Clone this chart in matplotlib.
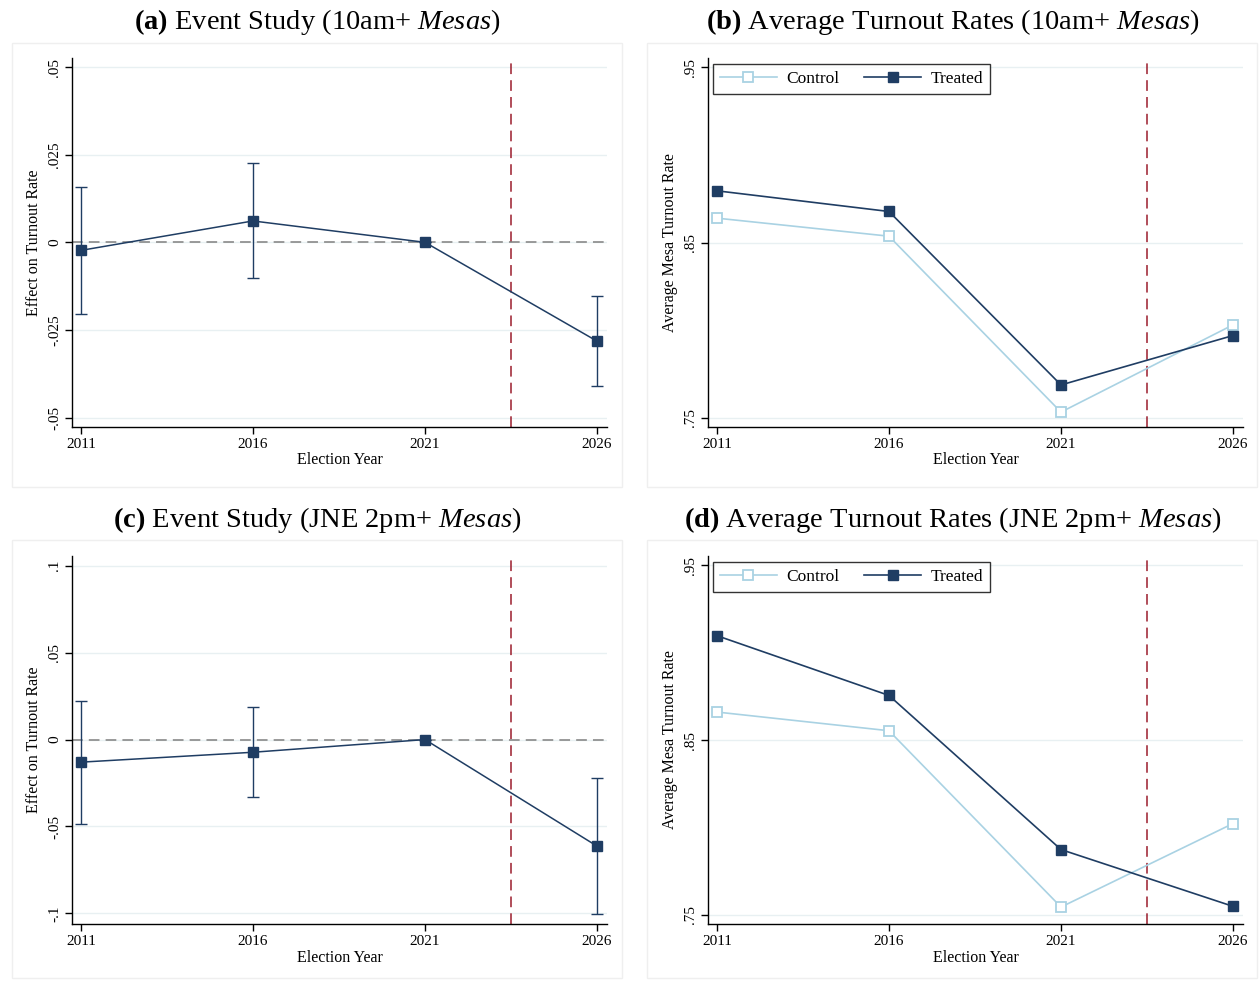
import matplotlib
matplotlib.use("Agg")
import matplotlib.pyplot as plt
from matplotlib.patches import Rectangle

plt.rcParams['font.family'] = ['Liberation Serif', 'DejaVu Serif']
plt.rcParams['mathtext.fontset'] = 'custom'
plt.rcParams['mathtext.rm'] = 'Liberation Serif'
plt.rcParams['mathtext.it'] = 'Liberation Serif:italic'
plt.rcParams['mathtext.bf'] = 'Liberation Serif:bold'

years = [2011, 2016, 2021, 2026]
treat_year = 2023.5

# Panel (a): event study 10am+
es_a = [-0.0023, 0.0061, 0.0, -0.0282]
es_a_lo = [-0.0205, -0.0102, 0.0, -0.0410]
es_a_hi = [0.0159, 0.0226, 0.0, -0.0153]
ticks_a = [-0.05, -0.025, 0, 0.025, 0.05]
labels_a = ['-.05', '-.025', '0', '.025', '.05']

# Panel (c): event study JNE 2pm+
es_c = [-0.0130, -0.0073, 0.0, -0.0613]
es_c_lo = [-0.0487, -0.0331, 0.0, -0.1006]
es_c_hi = [0.0224, 0.0190, 0.0, -0.0222]
ticks_c = [-0.1, -0.05, 0, 0.05, 0.1]
labels_c = ['-.1', '-.05', '0', '.05', '.1']

# Panel (b): average turnout 10am+
ctrl_b = [0.8639, 0.8536, 0.7532, 0.8030]
trt_b = [0.8795, 0.8677, 0.7687, 0.7969]
# Panel (d): average turnout JNE 2pm+
ctrl_d = [0.8660, 0.8553, 0.7544, 0.8022]
trt_d = [0.9097, 0.8755, 0.7873, 0.7548]
ticks_t = [0.75, 0.85, 0.95]
labels_t = ['.75', '.85', '.95']

NAVY = '#1f3d63'
LTBLUE = '#a9d2e3'
RED = '#9b1c2c'
GRID = '#e8f0f2'

W, H = 1259, 981
fig = plt.figure(figsize=(W / 100, H / 100), dpi=100)

def fr(x0, y0, x1, y1):
    return [x0 / W, 1 - y1 / H, (x1 - x0) / W, (y1 - y0) / H]

# panel backgrounds (faint graph-region borders)
for (x0, y0, x1, y1) in [(12, 43, 622, 487), (647, 43, 1257, 487),
                         (12, 540, 622, 978), (647, 540, 1257, 978)]:
    fig.patches.append(Rectangle((x0 / W, 1 - y1 / H), (x1 - x0) / W, (y1 - y0) / H,
                                 transform=fig.transFigure, facecolor='none',
                                 edgecolor='#efefef', linewidth=1, zorder=0))

def style(ax, ylim, ticks, labels, ylabel):
    ax.patch.set_alpha(0)
    ax.set_xlim(2010.74, 2026.29)
    ax.set_ylim(*ylim)
    ax.set_xticks(years)
    ax.set_xticklabels([str(y) for y in years], fontsize=11)
    ax.set_yticks(ticks)
    ax.set_yticklabels(labels, fontsize=11, rotation=90, va='center')
    for t in ticks:
        ax.axhline(t, color=GRID, lw=1.0, zorder=0)
    ax.spines['top'].set_visible(False)
    ax.spines['right'].set_visible(False)
    ax.spines['left'].set_linewidth(1.0)
    ax.spines['bottom'].set_linewidth(1.0)
    ax.tick_params(length=5, width=1.0, pad=3)
    ax.set_xlabel('Election Year', fontsize=11.5, labelpad=1)
    ax.set_ylabel(ylabel, fontsize=11.5, labelpad=4)
    ax.axvline(treat_year, color=RED, lw=1.1, ls=(0, (7, 4)), zorder=1)

def event(ax, est, lo, hi, ylim, ticks, labels):
    style(ax, ylim, ticks, labels, 'Effect on Turnout Rate')
    ax.axhline(0, color='#808080', lw=1.1, ls=(0, (7, 4)), zorder=1)
    yerr = [[e - l for e, l in zip(est, lo)], [h - e for e, h in zip(est, hi)]]
    ax.errorbar(years, est, yerr=yerr, fmt='none', ecolor=NAVY, elinewidth=1.0,
                capsize=4, capthick=1.0, zorder=3)
    ax.plot(years, est, color=NAVY, lw=1.1, marker='s', ms=7.5, zorder=4)

def turnout(ax, ctrl, trt):
    style(ax, (0.7447, 0.9553), ticks_t, labels_t, 'Average Mesa Turnout Rate')
    ax.plot(years, ctrl, color=LTBLUE, lw=1.2, marker='s', ms=7.5,
            mfc='white', mec=LTBLUE, mew=1.3, label='Control', zorder=3)
    ax.plot(years, trt, color=NAVY, lw=1.2, marker='s', ms=7.5,
            label='Treated', zorder=4)
    leg = ax.legend(loc='upper left', bbox_to_anchor=(0.009, 0.985), ncol=2,
                    frameon=True, fancybox=False, fontsize=12.5,
                    handlelength=3.3, columnspacing=1.4, borderpad=0.4,
                    borderaxespad=0, handletextpad=0.55)
    leg.get_frame().set_edgecolor('black')
    leg.get_frame().set_linewidth(1.0)

axA = fig.add_axes(fr(72, 58, 607, 427))
event(axA, es_a, es_a_lo, es_a_hi, (-0.0527, 0.0526), ticks_a, labels_a)
axB = fig.add_axes(fr(708, 58, 1243, 427))
turnout(axB, ctrl_b, trt_b)
axC = fig.add_axes(fr(72, 556, 607, 924))
event(axC, es_c, es_c_lo, es_c_hi, (-0.1061, 0.1056), ticks_c, labels_c)
axD = fig.add_axes(fr(708, 556, 1243, 924))
turnout(axD, ctrl_d, trt_d)

titles = [
    (317, 22, r'$\mathbf{(a)}$ Event Study (10am+ $\mathit{Mesas}$)'),
    (953, 22, r'$\mathbf{(b)}$ Average Turnout Rates (10am+ $\mathit{Mesas}$)'),
    (317, 520, r'$\mathbf{(c)}$ Event Study (JNE 2pm+ $\mathit{Mesas}$)'),
    (953, 520, r'$\mathbf{(d)}$ Average Turnout Rates (JNE 2pm+ $\mathit{Mesas}$)'),
]
for x, y, s in titles:
    fig.text(x / W, 1 - y / H, s, ha='center', va='center', fontsize=20.5)

fig.savefig('out.png', dpi=100)
